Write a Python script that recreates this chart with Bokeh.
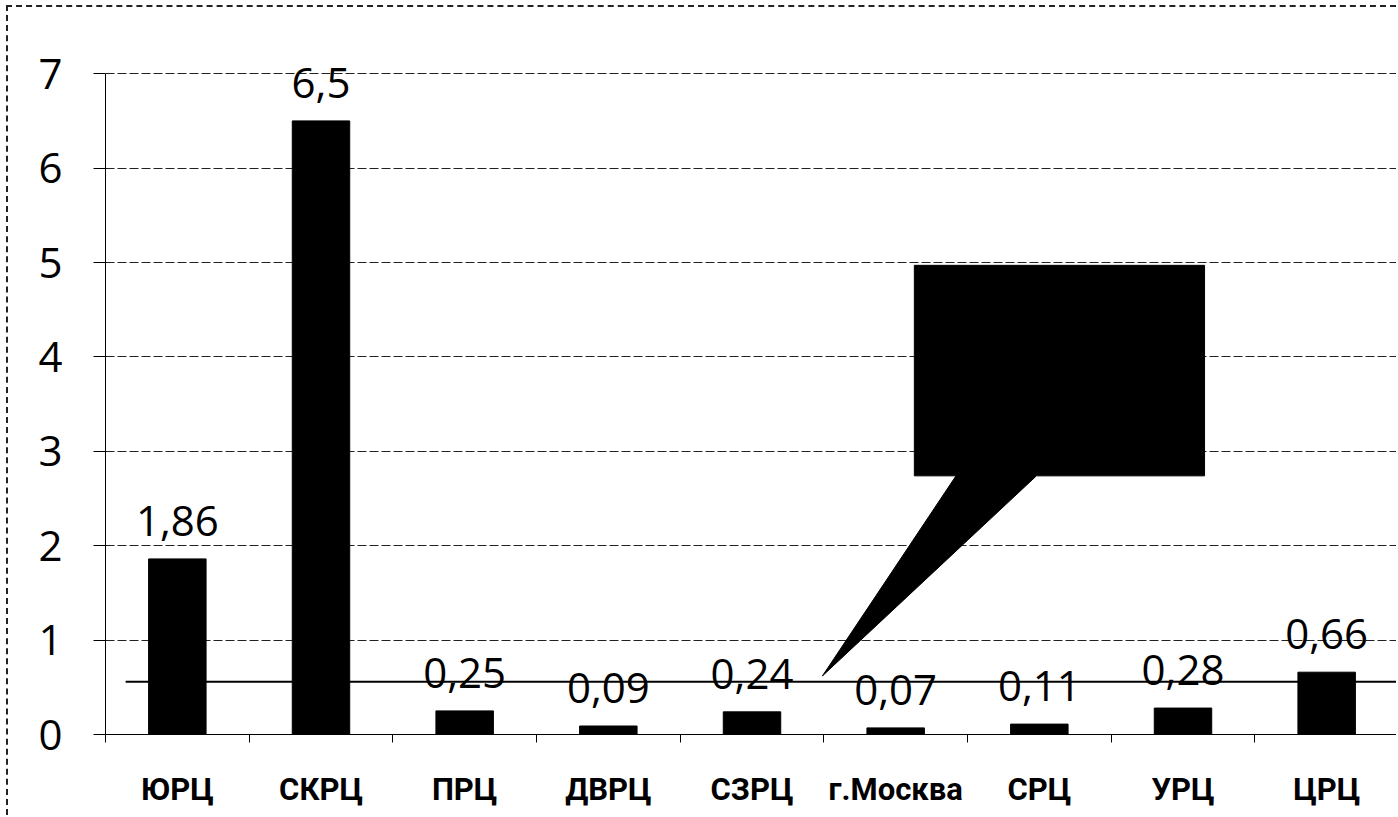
import numpy as np
from bokeh.plotting import figure
from bokeh.models import FixedTicker, Range1d
from bokeh.core.properties import value
from bokeh.embed import file_html
from bokeh.resources import INLINE

# ---- data ----
categories = ["ЮРЦ", "СКРЦ", "ПРЦ", "ДВРЦ", "СЗРЦ", "г.Москва", "СРЦ", "УРЦ", "ЦРЦ"]
values = [1.86, 6.5, 0.25, 0.09, 0.24, 0.07, 0.11, 0.28, 0.66]
y_ticks = [0, 1, 2, 3, 4, 5, 6, 7]
reference_level = 0.56          # horizontal line

# callout shape (annotation, in data units)
callout_x = [5.63, 7.65, 7.65, 6.48, 4.99, 5.92, 5.63]
callout_y = [4.97, 4.97, 2.74, 2.74, 0.62, 2.74, 2.74]

FONT = "Open Sans"
n = len(categories)
xs = np.arange(n) + 0.5
labels = [f"{v:g}".replace(".", ",") for v in values]

p = figure(width=1390, height=810, output_backend="svg", toolbar_location=None,
           x_range=Range1d(0, n), y_range=Range1d(0, 7.5),
           min_border_left=97, min_border_right=0, min_border_top=19, min_border_bottom=83)
p.outline_line_color = None
p.background_fill_color = "white"
p.border_fill_color = "white"
p.styles = {"border-top": "2px dashed #222", "border-left": "2px dashed #222",
            "margin-left": "6px", "margin-top": "5px"}

# grid
p.xgrid.grid_line_color = None
p.ygrid.ticker = FixedTicker(ticks=y_ticks)
p.ygrid.grid_line_color = "#222222"
p.ygrid.grid_line_dash = "9 3"
p.ygrid.grid_line_width = 1

# y axis
p.yaxis.ticker = FixedTicker(ticks=y_ticks)
p.yaxis.bounds = (0, 7)
p.yaxis.axis_line_color = "black"
p.yaxis.major_tick_out = 12
p.yaxis.major_tick_in = 0
p.yaxis.minor_tick_line_color = None
p.yaxis.major_tick_line_color = "black"
p.yaxis.major_label_text_font = FONT
p.yaxis.major_label_text_font_size = "42px"
p.yaxis.major_label_text_color = "black"
p.yaxis.major_label_standoff = 31

# x axis: labels at category centres, ticks at boundaries
p.xaxis.ticker = FixedTicker(ticks=list(xs), minor_ticks=list(range(n + 1)))
p.xaxis.major_label_overrides = {float(x): c for x, c in zip(xs, categories)}
p.xaxis.major_tick_out = 0
p.xaxis.major_tick_in = 0
p.xaxis.minor_tick_out = 8
p.xaxis.minor_tick_in = 0
p.xaxis.minor_tick_line_color = "black"
p.xaxis.axis_line_color = "black"
p.xaxis.major_label_text_font = "Roboto"
p.xaxis.major_label_text_font_size = "31px"
p.xaxis.major_label_text_font_style = "bold"
p.xaxis.major_label_text_color = "black"
p.xaxis.major_label_standoff = 28

# bars
p.vbar(x=xs, top=values, width=0.4, bottom=0, fill_color="black", line_color="black")

# value labels
p.text(x=xs, y=values, text=labels, text_align="center", text_baseline="alphabetic",
       y_offset=-38, text_font=value(FONT), text_font_size="42px", text_color="black")

# horizontal reference line
p.line(x=[0.14, n], y=[reference_level, reference_level], line_color="black", line_width=2)

# callout
p.patch(x=callout_x, y=callout_y, fill_color="black", line_color="black")

open("out.html", "w").write(file_html(p, INLINE))
